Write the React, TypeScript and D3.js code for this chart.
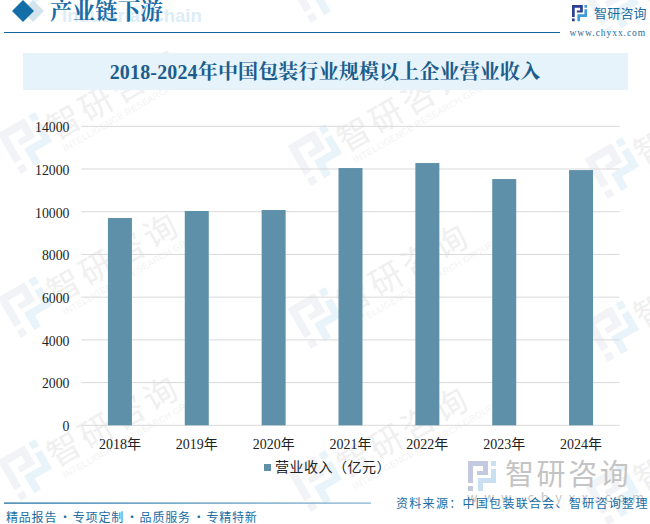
import React, { useEffect, useRef } from 'react';
import * as d3 from 'd3';

const years = ['2018年', '2019年', '2020年', '2021年', '2022年', '2023年', '2024年'];
const revenue = [9706, 10034, 10080, 12046, 12280, 11530, 11950];
const yTicks = [0, 2000, 4000, 6000, 8000, 10000, 12000, 14000];
const slogans = ['精品报告', '专项定制', '品质服务', '专精特新'];
// logo centres of the background tiles
const watermarkSpots = [
  [28, -20], [318, -8], [615, 5],
  [28, 143], [318, 155], [615, 168],
  [28, 307], [318, 318], [615, 331],
  [28, 470], [318, 481], [615, 494],
];

const width = 650;
const height = 524;
const margin = { top: 126.3, right: 30.5, bottom: 98.7, left: 81.5 };
const serif = '"Liberation Serif", "Noto Sans CJK SC", serif';
const song = '"Liberation Serif", "Noto Serif CJK SC", "Noto Sans CJK SC", serif';
const sans = '"Noto Sans CJK SC", sans-serif';

const logoLeft = 'M0,0H20V14H9V10H15V5H5V22H0ZM0,25H5V30H0Z';
const logoRight = 'M23,0H28V5H23ZM10,17H23V8H28V22H15V30H10Z';

function drawLogo(parent: any, transform: string, left: string, right: string) {
  const g = parent.append('g').attr('transform', transform);
  g.append('path').attr('d', logoLeft).attr('fill', left);
  g.append('path').attr('d', logoRight).attr('fill', right);
}

export default function App() {
  const svgRef = useRef<SVGSVGElement | null>(null);

  useEffect(() => {
    if (!svgRef.current) return;
    const svg = d3.select(svgRef.current);
    svg.selectAll('*').remove();

    // watermark tiles
    const mark = svg.append('g').selectAll('g').data(watermarkSpots).join('g')
      .attr('transform', (d) => `translate(${d[0]}, ${d[1]}) rotate(-30)`);
    mark.each(function () {
      drawLogo(d3.select(this), 'scale(1.55) translate(-14,-15)', '#f1f3f7', '#e9f4fa');
    });
    mark.append('text')
      .attr('x', 25).attr('y', 12)
      .attr('font-family', sans).attr('font-size', 33).attr('letter-spacing', 4)
      .attr('fill', '#f0f0f0')
      .text('智研咨询');
    mark.append('text')
      .attr('x', 28).attr('y', 26)
      .attr('font-family', '"Liberation Sans", sans-serif').attr('font-size', 9).attr('letter-spacing', 0.3)
      .attr('fill', '#f3f3f3')
      .text('INTELLIGENCE RESEARCH GROUP');

    // header
    svg.append('path').attr('d', 'M33,0L44,11L33,22L22,11Z').attr('fill', '#d3e4ee');
    svg.append('path').attr('d', 'M23,0L34,11L23,22L12,11Z').attr('fill', '#146ea8');
    svg.append('text').attr('x', 62).attr('y', 22)
      .attr('font-family', '"Liberation Sans", sans-serif').attr('font-weight', 700).attr('font-size', 18.5)
      .attr('fill', '#dcedf8').text('Industrial Chain');
    svg.append('text').attr('x', 50).attr('y', 19)
      .attr('font-family', song).attr('font-weight', 700).attr('font-size', 22.6)
      .attr('fill', '#1a6ca4').text('产业链下游');
    svg.append('line').attr('x1', 4).attr('x2', 560).attr('y1', 32.5).attr('y2', 32.5)
      .attr('stroke', '#0f659f').attr('stroke-width', 1);

    // logo, top right
    drawLogo(svg, 'translate(572,5) scale(0.54)', '#2d3f92', '#3f9ad6');
    svg.append('text').attr('x', 594).attr('y', 18)
      .attr('font-family', sans).attr('font-size', 13).attr('letter-spacing', 0.2)
      .attr('fill', '#1a6ca4').text('智研咨询');
    svg.append('text').attr('x', 569.5).attr('y', 36)
      .attr('font-family', serif).attr('font-size', 9.5).attr('letter-spacing', 0.95)
      .attr('fill', '#1a6ca4').text('www.chyxx.com');

    // title band
    svg.append('rect').attr('x', 23).attr('y', 53).attr('width', 605).attr('height', 37).attr('fill', '#e6f3fb');
    svg.append('text').attr('x', 325).attr('y', 79).attr('text-anchor', 'middle')
      .attr('font-family', song).attr('font-weight', 700).attr('font-size', 20).attr('letter-spacing', 0.15)
      .attr('fill', '#1c5d8c').text('2018-2024年中国包装行业规模以上企业营业收入');

    // scales
    const x = d3.scaleBand().domain(years).range([margin.left, width - margin.right]);
    const y = d3.scaleLinear().domain([0, 14000]).range([height - margin.bottom, margin.top]);

    // grid
    svg.append('g').selectAll('line').data(yTicks).join('line')
      .attr('x1', margin.left).attr('x2', width - margin.right)
      .attr('y1', (d) => y(d)).attr('y2', (d) => y(d))
      .attr('stroke', '#d9d9d9').attr('stroke-width', 1);

    // y axis
    svg.append('g').selectAll('text').data(yTicks).join('text')
      .attr('x', 69.5).attr('y', (d) => y(d)).attr('dy', '0.42em')
      .attr('text-anchor', 'end')
      .attr('font-family', serif).attr('font-size', 13.8).attr('fill', '#222')
      .text((d) => d);

    // bars
    const barWidth = 24;
    svg.append('g').selectAll('rect').data(revenue).join('rect')
      .attr('x', (d, i) => (x(years[i]) ?? 0) + x.bandwidth() / 2 - barWidth / 2)
      .attr('y', (d) => y(d))
      .attr('width', barWidth)
      .attr('height', (d) => y(0) - y(d))
      .attr('fill', '#5e91a9');

    // x labels
    svg.append('g').selectAll('text').data(years).join('text')
      .attr('x', (d) => (x(d) ?? 0) + x.bandwidth() / 2)
      .attr('y', 449)
      .attr('text-anchor', 'middle')
      .attr('font-family', serif).attr('font-size', 14).attr('fill', '#222')
      .text((d) => d);

    // bottom logo watermark
    drawLogo(svg, 'translate(468,461)', '#c3c9de', '#c9e0f0');
    svg.append('text').attr('x', 505).attr('y', 485)
      .attr('font-family', sans).attr('font-size', 29).attr('letter-spacing', 2.6)
      .attr('fill', '#c4c4c4').text('智研咨询');
    svg.append('text').attr('x', 467).attr('y', 502)
      .attr('font-family', sans).attr('font-size', 13).attr('letter-spacing', 6.6)
      .attr('fill', '#c4c4c4').text('www.chyxx.com');

    // legend
    svg.append('rect').attr('x', 264).attr('y', 464).attr('width', 7).attr('height', 7).attr('fill', '#5e91a9');
    svg.append('text').attr('x', 275).attr('y', 472)
      .attr('font-family', serif).attr('font-size', 14).attr('letter-spacing', 0.5).attr('fill', '#222')
      .text('营业收入（亿元）');

    // footer
    const grad = svg.append('defs').append('linearGradient').attr('id', 'footLine');
    grad.append('stop').attr('offset', '0%').attr('stop-color', '#0f659f');
    grad.append('stop').attr('offset', '100%').attr('stop-color', '#7fb0cf');
    svg.append('rect').attr('x', 4).attr('y', 502.5).attr('width', 367).attr('height', 1.2).attr('fill', 'url(#footLine)');
    const foot = svg.append('g').attr('font-family', sans).attr('font-size', 12).attr('fill', '#1a6ca4');
    foot.selectAll('text.slogan').data(slogans).join('text')
      .attr('class', 'slogan')
      .attr('x', (d, i) => 6 + i * 66.8).attr('y', 522)
      .attr('letter-spacing', 0.8)
      .text((d) => d);
    foot.selectAll('text.dot').data(slogans.slice(1)).join('text')
      .attr('class', 'dot')
      .attr('x', (d, i) => 65 + i * 66.9).attr('y', 522)
      .attr('text-anchor', 'middle')
      .text('·');
    svg.append('text').attr('x', 396).attr('y', 508)
      .attr('font-family', sans).attr('font-size', 12).attr('letter-spacing', 1.3)
      .attr('fill', '#1a6ca4').text('资料来源：中国包装联合会、智研咨询整理');
  }, []);

  return <svg ref={svgRef} width={width} height={height} style={{ position: 'absolute', left: 0, top: 0, background: '#fff' }} />;
}
